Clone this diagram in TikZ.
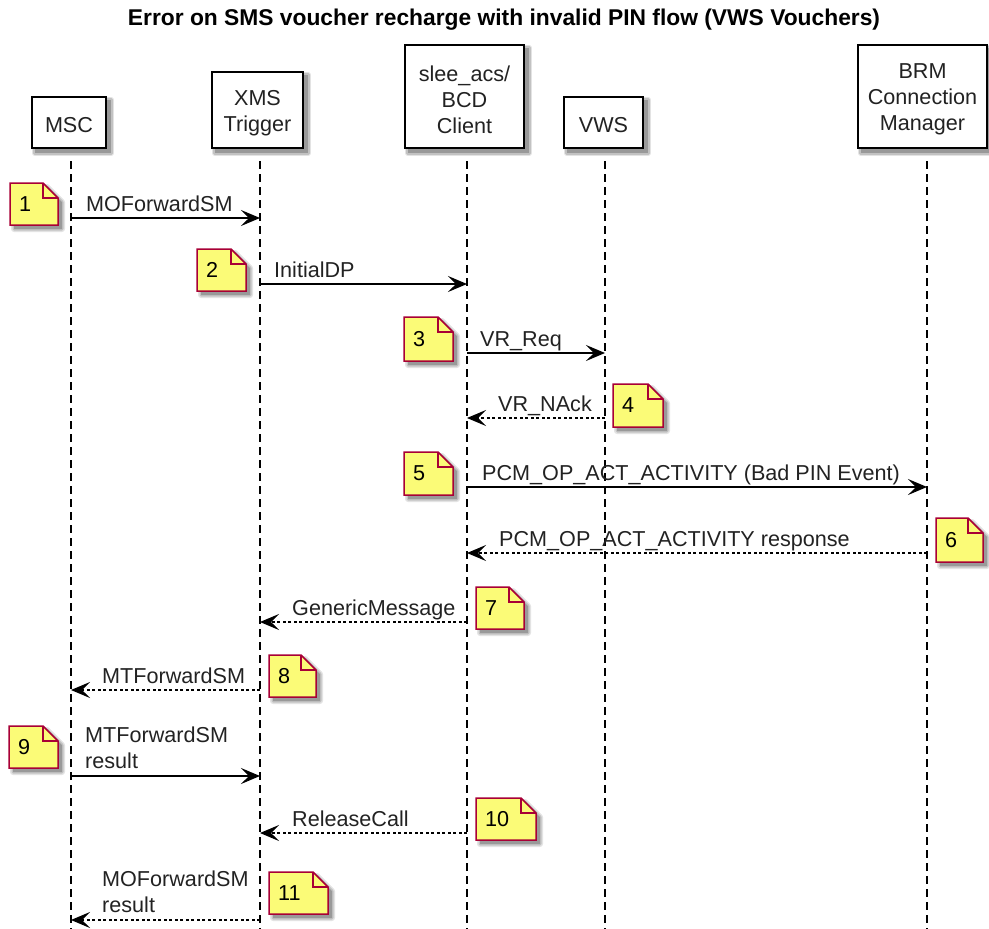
\documentclass[tikz,border=0pt]{standalone}
\usepackage{fontspec}
\setmainfont{Liberation Sans}
\usetikzlibrary{arrows.meta}
\definecolor{notefill}{HTML}{FBFB77}
\definecolor{noteborder}{HTML}{A80036}
\definecolor{txt}{HTML}{222222}
\pgfdeclarelayer{lines}
\pgfdeclarelayer{shadow}
\pgfsetlayers{lines,shadow,main}

\tikzset{
  seqhead/.tip={Stealth[length=19pt,width=16pt,inset=8pt,line width=1pt]},
  pbox/.style={draw=black, line width=2.2pt, fill=white, inner sep=0pt},
  ptext/.style={font=\fontsize{21.6}{26}\selectfont, align=center, text=txt, inner sep=0pt},
  lifeline/.style={line width=1.3pt, dash pattern=on 8pt off 5pt, black},
  msgsolid/.style={line width=1.6pt, -seqhead},
  msgdash/.style={line width=1.2pt, dash pattern=on 3pt off 2.5pt, -seqhead},
  lbl/.style={font=\fontsize{21.6}{26}\selectfont, text=txt, inner sep=0pt, text depth=0pt, anchor=south west, align=left},
  notearea/.style={inner sep=0pt, draw=none, outer sep=0pt},
  noteline/.style={draw=noteborder, line width=1.5pt, line join=miter},
  notenum/.style={font=\fontsize{21.6}{26}\selectfont, text=black, inner sep=0pt, anchor=west},
  shA/.style={draw=black!11, fill=black!11, line width=6pt, line join=round},
  shB/.style={draw=black!24, fill=black!24, line width=3pt, line join=round},
  shC/.style={fill=black!40}
}

% participant: name, x1, y1, x2, y2, text
\newcommand\mypart[6]{%
  \node[pbox, minimum width={#4-#2}, minimum height={#5-#3}] (#1) at ({(#2+#4)/2},{(#3+#5)/2}) {};
  \node[ptext] (#1t) at ([yshift=-3pt]#1.center) {#6};
  \begin{pgfonlayer}{shadow}
    \foreach \st in {shA,shB,shC}{
      \path[\st] ([shift={(4,4)}]#1.north west) rectangle ([shift={(4,4)}]#1.south east);
    }
  \end{pgfonlayer}
}

% note: name, x1, y1, x2, y2, text
\newcommand\mynote[6]{%
  \node[notearea, minimum width={#4-#2}, minimum height={#5-#3}] (#1) at ({(#2+#4)/2},{(#3+#5)/2}) {};
  \begin{pgfonlayer}{shadow}
    \foreach \st in {shA,shB,shC}{
      \path[\st] ([shift={(4,4)}]#1.north west) -- ([shift={(-11,4)}]#1.north east) -- ([shift={(4,19)}]#1.north east) -- ([shift={(4,4)}]#1.south east) -- ([shift={(4,4)}]#1.south west) -- cycle;
    }
  \end{pgfonlayer}
  \draw[noteline, fill=notefill] (#1.north west) -- ([xshift=-15pt]#1.north east) -- ([yshift=-15pt]#1.north east) -- (#1.south east) -- (#1.south west) -- cycle;
  \draw[noteline] ([xshift=-15pt]#1.north east) |- ([yshift=-15pt]#1.north east);
  \node[notenum] (#1t) at ([xshift=9pt]#1.west) {#6};
}

\begin{document}
\begin{tikzpicture}[x=1pt,y=-1pt]
\useasboundingbox (0,0) rectangle (989,929);

% title
\node[font=\fontsize{22.8}{26}\bfseries, text=black] (title) at (504,20) {Error on SMS voucher recharge with invalid PIN flow (VWS Vouchers)};

% lifeline anchors
\coordinate (Lmsc) at (71,148);  \coordinate (Emsc) at (71,929);
\coordinate (Lxms) at (260,148); \coordinate (Exms) at (260,929);
\coordinate (Lbcd) at (467,148); \coordinate (Ebcd) at (467,929);
\coordinate (Lvws) at (605,148); \coordinate (Evws) at (605,929);
\coordinate (Lbrm) at (927,148); \coordinate (Ebrm) at (927,929);

\begin{pgfonlayer}{lines}
\draw[lifeline] (Lmsc) -- (Emsc);
\draw[lifeline] (Lxms) -- (Exms);
\draw[lifeline] (Lbcd) -- (Ebcd);
\draw[lifeline] (Lvws) -- (Evws);
\draw[lifeline] (Lbrm) -- (Ebrm);
\end{pgfonlayer}

% participants
\mypart{msc}{32}{97}{106}{148}{MSC}
\mypart{xms}{212}{72}{303}{148}{XMS\\Trigger}
\mypart{bcd}{405}{45}{524}{148}{slee\_acs/\\BCD\\Client}
\mypart{vws}{564}{97}{643}{148}{VWS}
\mypart{brm}{858}{45}{987}{148}{BRM\\Connection\\Manager}

% messages
\draw[msgsolid] (Lmsc |- 0,218) -- (Lxms |- 0,218);
\node[lbl] (m1) at (86,212) {MOForwardSM};

\draw[msgsolid] (Lxms |- 0,284) -- (Lbcd |- 0,284);
\node[lbl] (m2) at (274,278) {InitialDP};

\draw[msgsolid] (Lbcd |- 0,353) -- (Lvws |- 0,353);
\node[lbl] (m3) at (480,347) {VR\_Req};

\draw[msgdash] (Lvws |- 0,418) -- (Lbcd |- 0,418);
\node[lbl] (m4) at (498,412) {VR\_NAck};

\draw[msgsolid] (Lbcd |- 0,487) -- (Lbrm |- 0,487);
\node[lbl] (m5) at (482,481) {PCM\_OP\_ACT\_ACTIVITY (Bad PIN Event)};

\draw[msgdash] (Lbrm |- 0,553) -- (Lbcd |- 0,553);
\node[lbl] (m6) at (499,547) {PCM\_OP\_ACT\_ACTIVITY response};

\draw[msgdash] (Lbcd |- 0,622) -- (Lxms |- 0,622);
\node[lbl] (m7) at (292,616) {GenericMessage};

\draw[msgdash] (Lxms |- 0,690) -- (Lmsc |- 0,690);
\node[lbl] (m8) at (102,684) {MTForwardSM};

\draw[msgsolid] (Lmsc |- 0,776) -- (Lxms |- 0,776);
\node[lbl] (m9) at (85,769) {MTForwardSM\\result};

\draw[msgdash] (Lbcd |- 0,833) -- (Lxms |- 0,833);
\node[lbl] (m10) at (292,827) {ReleaseCall};

\draw[msgdash] (Lxms |- 0,920) -- (Lmsc |- 0,920);
\node[lbl] (m11) at (102,913) {MOForwardSM\\result};

% notes
\mynote{n1}{10}{183}{58}{225}{1}
\mynote{n2}{197}{249}{246}{291}{2}
\mynote{n3}{404}{317}{453}{361}{3}
\mynote{n4}{613}{384}{663}{427}{4}
\mynote{n5}{404}{452}{453}{495}{5}
\mynote{n6}{936}{518}{983}{562}{6}
\mynote{n7}{476}{587}{524}{629}{7}
\mynote{n8}{269}{655}{316}{697}{8}
\mynote{n9}{9}{726}{58}{768}{9}
\mynote{n10}{476}{798}{536}{840}{10}
\mynote{n11}{269}{872}{328}{914}{11}
\end{tikzpicture}
\end{document}
